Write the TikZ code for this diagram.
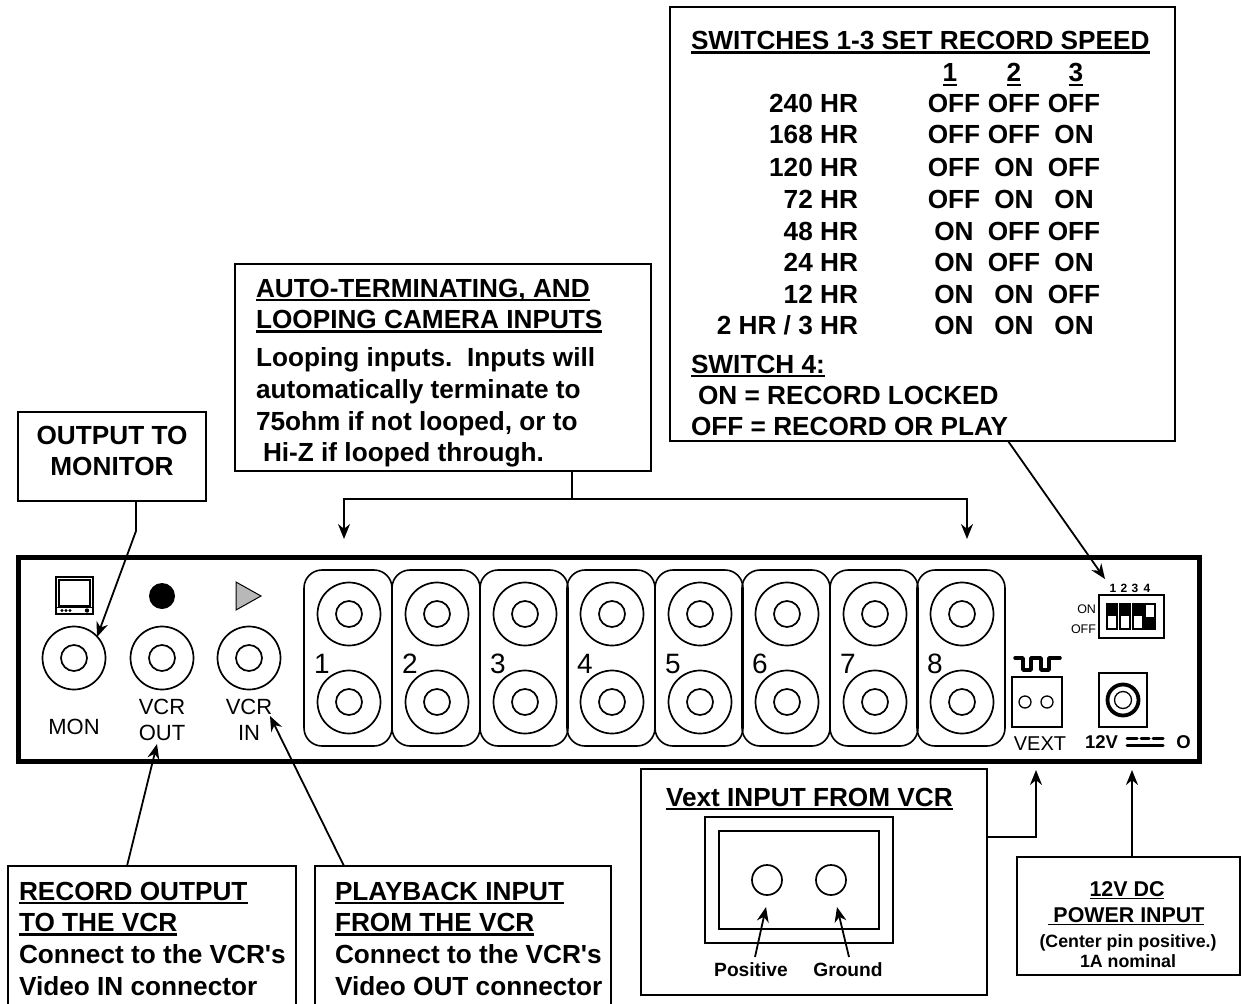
\documentclass[tikz,border=0pt]{standalone}
\usepackage{fontspec}
\setmainfont{Liberation Sans}[Ligatures=TeXOff]
\usetikzlibrary{arrows.meta}
\newsavebox{\ulbox}
\newcommand{\ulx}[1]{\sbox{\ulbox}{#1}\rlap{\rule[-0.16em]{\wd\ulbox}{0.085em}}\usebox{\ulbox}}
\tikzset{
 every node/.style={inner sep=0pt,outer sep=0pt},
 bt/.style={anchor=base west,font=\fontsize{26.2}{28}\selectfont\bfseries},
 bc/.style={anchor=base,font=\fontsize{26.2}{28}\selectfont\bfseries},
 br/.style={anchor=base east,font=\fontsize{26.2}{28}\selectfont\bfseries},
 sm/.style={anchor=base,font=\fontsize{19.2}{20}\selectfont\bfseries},
 reg/.style={anchor=base,font=\fontsize{22}{24}\selectfont},
 boxl/.style={draw=black,line width=1.8pt,fill=white},
 wire/.style={draw=black,line width=1.8pt},
 arr/.style={wire,-{Stealth[length=15pt,width=12pt]}},
 jack/.style={draw=black,line width=1.7pt,fill=white},
}
\begin{document}
\begin{tikzpicture}[x=1pt,y=-1pt]
\useasboundingbox (0,0) rectangle (1241,1003);
\fill[white] (0,0) rectangle (1241,1003);
% panel
\node[draw=black,line width=5pt,minimum width=1181pt,minimum height=204pt,anchor=north west] (panel) at (18,557) {};
% Boxes
\node[boxl,minimum width=505pt,minimum height=434pt,anchor=north west] (swbox) at (670,7) {};
\node[boxl,minimum width=416pt,minimum height=207pt,anchor=north west] (autobox) at (235,264) {};
\node[boxl,minimum width=188pt,minimum height=89pt,anchor=north west] (monbox) at (18,412) {};
\node[boxl,minimum width=288pt,minimum height=140pt,anchor=north west] (recbox) at (8,866) {};
\node[boxl,minimum width=296pt,minimum height=140pt,anchor=north west] (playbox) at (315,866) {};
\node[boxl,minimum width=346pt,minimum height=226pt,anchor=north west] (vextbox) at (641,769) {};
\node[boxl,minimum width=223pt,minimum height=118pt,anchor=north west] (pwrbox) at (1017,857) {};
% switches text
\node[bt] (s0) at (691,49.5) {\ulx{SWITCHES 1-3 SET RECORD SPEED}};
\node[bc] (h1) at (950,82) {\ulx{1}};
\node[bc] (h2) at (1014,82) {\ulx{2}};
\node[bc] (h3) at (1076,82) {\ulx{3}};
\foreach \n/\yy/\hr/\a/\b/\c in {
 1/113/{240 HR}/OFF/OFF/OFF,
 2/144/{168 HR}/OFF/OFF/ON,
 3/176/{120 HR}/OFF/ON/OFF,
 4/208/{72 HR}/OFF/ON/ON,
 5/240/{48 HR}/ON/OFF/OFF,
 6/271/{24 HR}/ON/OFF/ON,
 7/303/{12 HR}/ON/ON/OFF,
 8/334/{2 HR {/} 3 HR}/ON/ON/ON}{
 \node[br] (r\n) at (858,\yy) {\hr};
 \node[bc] (ra\n) at (954,\yy) {\a};
 \node[bc] (rb\n) at (1014,\yy) {\b};
 \node[bc] (rc\n) at (1074,\yy) {\c};
}
\node[bt] (s4) at (691,373) {\ulx{SWITCH 4:}};
\node[bt] (s5) at (698,404) {ON = RECORD LOCKED};
\node[bt] (s6) at (691,435) {OFF = RECORD OR PLAY};
% auto text
\node[bt] (a1) at (256,297) {\ulx{AUTO-TERMINATING, AND}};
\node[bt] (a2) at (256,328.5) {\ulx{LOOPING CAMERA INPUTS}};
\node[bt] (a3) at (256,366) {Looping inputs.\ \ Inputs will};
\node[bt] (a4) at (256,398) {automatically terminate to};
\node[bt] (a5) at (256,430) {75ohm if not looped, or to};
\node[bt] (a6) at (263,461) {Hi-Z if looped through.};
% mon text
\node[bc] (m1) at (112,444) {OUTPUT TO};
\node[bc] (m2) at (112,475) {MONITOR};
% rec
\node[bt] (re1) at (19,900) {\ulx{RECORD OUTPUT}};
\node[bt] (re2) at (19,931.5) {\ulx{TO THE VCR}};
\node[bt] (re3) at (19,963.5) {Connect to the VCR's};
\node[bt] (re4) at (19,995.5) {Video IN connector};
\node[bt] (p1) at (335,900) {\ulx{PLAYBACK INPUT}};
\node[bt] (p2) at (335,931.5) {\ulx{FROM THE VCR}};
\node[bt] (p3) at (335,963.5) {Connect to the VCR's};
\node[bt] (p4) at (335,995.5) {Video OUT connector};
% vext box
\node[bt] (v1) at (666,806) {\ulx{Vext INPUT FROM VCR}};
\draw[line width=1.7pt] (705,817) rectangle (893,943);
\draw[line width=1.7pt] (719,831) rectangle (879,929);
\node[circle,draw,line width=1.7pt,minimum size=30pt] (vc1) at (767,880) {};
\node[circle,draw,line width=1.7pt,minimum size=30pt] (vc2) at (831,880) {};
\node[sm] (vp) at (751,976) {Positive};
\node[sm] (vg) at (848,976) {Ground};
\coordinate (vpa) at (755,957);
\coordinate (vpb) at (766,907);
\coordinate (vga) at (849,957);
\coordinate (vgb) at (837,907);
\draw[arr] (vpa) -- (vpb);
\draw[arr] (vga) -- (vgb);
% pwr text
\node[anchor=base,font=\fontsize{21.4}{23}\selectfont\bfseries] (pw1) at (1127,896) {\ulx{12V DC}};
\node[anchor=base,font=\fontsize{21.4}{23}\selectfont\bfseries] (pw2) at (1126,922) {\ulx{\ POWER INPUT}};
\node[anchor=base,font=\fontsize{17.8}{19}\selectfont\bfseries] (pw3) at (1128,947) {(Center pin positive.)};
\node[anchor=base,font=\fontsize{17.8}{19}\selectfont\bfseries] (pw4) at (1128,967) {1A nominal};
% left jacks
\foreach \nm/\xx in {mon/74,vo/162,vi/249}{
 \node[circle,jack,minimum size=63pt] (\nm o) at (\xx,658) {};
 \node[circle,jack,minimum size=26pt] (\nm i) at (\xx,658) {};
}
\node[reg] (tm) at (74,734) {MON};
\node[reg] (to1) at (162,714) {VCR};
\node[reg] (to2) at (162,740) {OUT};
\node[reg] (ti1) at (249,714) {VCR};
\node[reg] (ti2) at (249,740) {IN};
% monitor icon
\draw[line width=1.3pt] (56,577) rectangle (93,614);
\draw[line width=1.3pt] (59,580) rectangle (90,606);
\draw[line width=1pt] (56,607) -- (93,607);
\fill (62,610.5) circle (1.6) (66,610.5) circle (1.6) (70,610.5) circle (1.6) (87,610.5) circle (2.2);
% record dot, play triangle
\fill (162,596) circle (13);
\draw[line width=1pt,fill=black!28] (236,582) -- (261,596) -- (236,610) -- cycle;
% camera modules
\foreach \n/\xx in {1/349,2/437,3/525,4/612,5/700,6/787,7/875,8/962}{
 \draw[line width=1.6pt,rounded corners=18pt] (\xx-45,570) rectangle (\xx+43,746);
}
\foreach \n/\xx in {1/349,2/437,3/525,4/612,5/700,6/787,7/875,8/962}{
 \node[circle,jack,minimum size=63pt] (t\n o) at (\xx,614) {};
 \node[circle,jack,minimum size=26pt] (t\n i) at (\xx,614) {};
 \node[circle,jack,minimum size=63pt] (b\n o) at (\xx,702) {};
 \node[circle,jack,minimum size=26pt] (b\n i) at (\xx,702) {};
 \node[anchor=base,font=\fontsize{28}{30}\selectfont] (n\n) at (\xx-27,673) {\n};
}
% DIP
\node[draw,line width=1.3pt,minimum width=65pt,minimum height=43pt,anchor=north west] (dip) at (1099,595) {};
\foreach \xx/\st in {1107/0,1120/0,1133/0,1145/1}{
 \draw[line width=1.2pt] (\xx,604) rectangle (\xx+10,629);
 \ifnum\st=0 \fill (\xx,604) rectangle (\xx+10,616);\else \fill (\xx,617) rectangle (\xx+10,629);\fi
}
\foreach \n/\xx in {1/1113,2/1124,3/1135,4/1147}{
 \node[anchor=base,font=\fontsize{12}{13}\selectfont\bfseries] (d\n) at (\xx,592) {\n};
}
\node[anchor=base east,font=\fontsize{12.5}{13}\selectfont] (don) at (1096,613) {ON};
\node[anchor=base east,font=\fontsize{12.5}{13}\selectfont] (dof) at (1096,633) {OFF};
% VEXT
\draw[line width=1.5pt] (1012,677) rectangle (1062,727);
\node[circle,draw,line width=1.3pt,minimum size=12pt] (ve1) at (1025,702) {};
\node[circle,draw,line width=1.3pt,minimum size=12pt] (ve2) at (1047,702) {};
\draw[line width=3.5pt,line cap=round,line join=round] (1015,658) -- (1023,658) -- (1023,670) -- (1031,670) -- (1031,658) -- (1041,658) -- (1041,670) -- (1049,670) -- (1049,658) -- (1060,658);
\node[anchor=base,font=\fontsize{20}{22}\selectfont] (vx) at (1040,750) {VEXT};
% power jack
\draw[line width=1.5pt] (1099,673) rectangle (1147,727);
\node[circle,draw,line width=3.8pt,minimum size=31pt] (pj1) at (1123,700) {};
\node[circle,draw,line width=1.3pt,minimum size=17pt] (pj2) at (1123,700) {};
\node[anchor=base west,font=\fontsize{18.5}{20}\selectfont\bfseries] (v12) at (1085,748) {12V};
\draw[line width=3pt,line cap=round] (1127,738.5) -- (1137,738.5) (1141,738.5) -- (1149,738.5) (1153,738.5) -- (1163,738.5);
\draw[line width=3pt,line cap=round] (1127,745) -- (1163,745);
\node[anchor=base,font=\fontsize{18.5}{20}\selectfont\bfseries] (vo) at (1183.5,748) {O};
% connectors
\coordinate (c1) at (136,531);
\coordinate (c1b) at (136,501);
\coordinate (c1t) at (97,637);
\draw[arr] (c1b) -- (c1) -- (c1t);
\coordinate (c2) at (572,471);
\coordinate (c2m) at (572,499);
\coordinate (c2l) at (344,499);
\coordinate (c2r) at (967,499);
\coordinate (c2lb) at (344,539);
\coordinate (c2rb) at (967,539);
\draw[wire] (c2) -- (c2m);
\draw[arr] (c2m) -- (c2l) -- (c2lb);
\draw[arr] (c2m) -- (c2r) -- (c2rb);
\coordinate (c3a) at (1008,441);
\coordinate (c3b) at (1105,579);
\draw[arr] (c3a) -- (c3b);
\coordinate (c4a) at (127,866);
\coordinate (c4b) at (157,744);
\draw[arr] (c4a) -- (c4b);
\coordinate (c5a) at (344,866);
\coordinate (c5b) at (270,716);
\draw[arr] (c5a) -- (c5b);
\coordinate (c6a) at (987,837);
\coordinate (c6m) at (1036,837);
\coordinate (c6b) at (1036,770);
\draw[arr] (c6a) -- (c6m) -- (c6b);
\coordinate (c7a) at (1132,857);
\coordinate (c7b) at (1132,770);
\draw[arr] (c7a) -- (c7b);
\end{tikzpicture}
\end{document}
